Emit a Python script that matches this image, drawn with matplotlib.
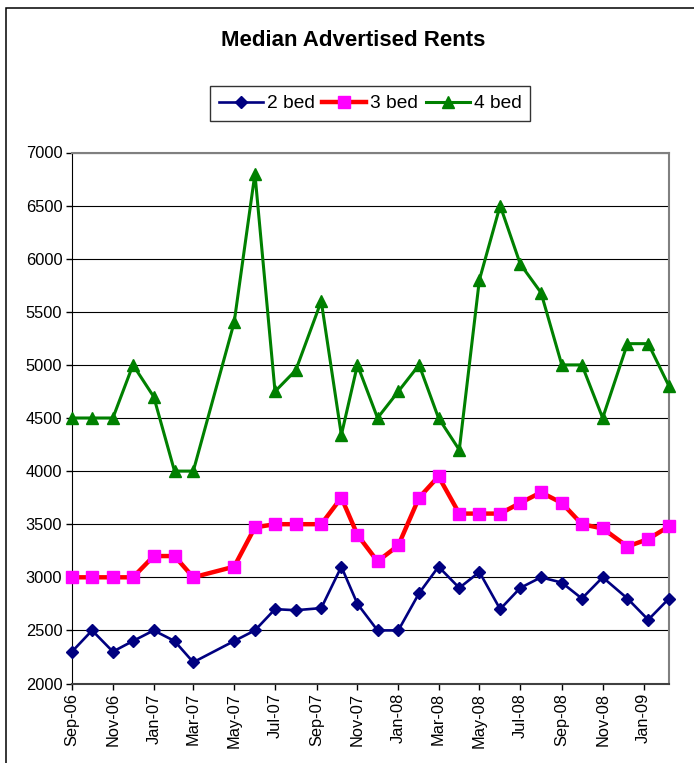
import datetime as dt
import matplotlib
matplotlib.use('Agg')
import matplotlib.pyplot as plt
import matplotlib.dates as mdates
from matplotlib.patches import Rectangle

# survey dates (a few months were sampled a week late, Apr-07 is missing)
dates = ['2006-09-01', '2006-10-01', '2006-11-01', '2006-12-01',
         '2007-01-01', '2007-02-01', '2007-03-01', '2007-05-01',
         '2007-06-01', '2007-07-01', '2007-08-01', '2007-09-08',
         '2007-10-08', '2007-11-01', '2007-12-01', '2008-01-01',
         '2008-02-01', '2008-03-01', '2008-04-01', '2008-05-01',
         '2008-06-01', '2008-07-01', '2008-08-01', '2008-09-01',
         '2008-10-01', '2008-11-01', '2008-12-08', '2009-01-08',
         '2009-02-08']

bed2 = [2300, 2500, 2300, 2400, 2500, 2400, 2200, 2400, 2500, 2700,
        2690, 2710, 3100, 2750, 2500, 2500, 2850, 3100, 2900, 3050,
        2700, 2900, 3000, 2950, 2800, 3000, 2800, 2600, 2800]
bed3 = [3000, 3000, 3000, 3000, 3200, 3200, 3000, 3100, 3470, 3500,
        3500, 3500, 3750, 3400, 3150, 3300, 3750, 3950, 3600, 3600,
        3600, 3700, 3800, 3700, 3500, 3460, 3290, 3360, 3480]
bed4 = [4500, 4500, 4500, 5000, 4700, 4000, 4000, 5400, 6800, 4750,
        4950, 5600, 4340, 5000, 4500, 4750, 5000, 4500, 4200, 5800,
        6500, 5950, 5680, 5000, 5000, 4500, 5200, 5200, 4800]

series_names = ['2 bed', '3 bed', '4 bed']
yticks = list(range(2000, 7001, 500))


def main():
    plt.rcParams['font.family'] = ['Liberation Sans', 'DejaVu Sans']

    x = [dt.datetime.strptime(d, '%Y-%m-%d') for d in dates]

    fig = plt.figure(figsize=(6.94, 7.63), dpi=100)
    ax = fig.add_axes([72/694, 1 - 683.5/763, 597/694, 531/763])

    # outer chart border (cut off at right and bottom)
    fig.patches.append(Rectangle((6/694, -0.1), 1.2, 1.1 - 8.5/763,
                                 transform=fig.transFigure, fill=False,
                                 edgecolor='black', linewidth=1.1))

    ax.plot(x, bed2, color='#000080', lw=1.9, marker='D', ms=6.5,
            mfc='#000080', mec='#000080', label=series_names[0], zorder=3,
            clip_on=False)
    ax.plot(x, bed3, color='#FF0000', lw=3.2, marker='s', ms=8,
            mfc='#FF00FF', mec='#FF00FF', label=series_names[1], zorder=3,
            clip_on=False)
    ax.plot(x, bed4, color='#008000', lw=2.2, marker='^', ms=9,
            mfc='#008000', mec='#008000', label=series_names[2], zorder=3,
            clip_on=False)

    ax.set_xlim(x[0], x[-1])
    ax.set_ylim(2000, 7000)
    ax.set_yticks(yticks)
    ax.yaxis.grid(True, color='black', lw=0.8)
    ax.set_axisbelow(True)

    ax.xaxis.set_major_locator(mdates.MonthLocator(bymonth=[1, 3, 5, 7, 9, 11]))
    ax.xaxis.set_major_formatter(mdates.DateFormatter('%b-%y'))
    ax.tick_params(axis='x', rotation=90, labelsize=11.8, length=4, width=1,
                   pad=3)
    ax.tick_params(axis='y', labelsize=11.8, length=4, width=1, pad=3)

    ax.spines['left'].set_color('black')
    ax.spines['bottom'].set_color('#404040')
    ax.spines['bottom'].set_linewidth(1.5)
    ax.spines['top'].set_color('#808080')
    ax.spines['top'].set_linewidth(1.5)
    ax.spines['right'].set_color('#808080')
    ax.spines['right'].set_linewidth(1.5)

    fig.text(353/694, 1 - 41/763, 'Median Advertised Rents', ha='center',
             va='center', fontsize=16, fontweight='bold')

    leg = fig.legend(loc='center', bbox_to_anchor=(370/694, 1 - 103.7/763),
                     ncol=3, fontsize=13.8, frameon=True, fancybox=False,
                     edgecolor='black', handlelength=2.3, handletextpad=0.2,
                     columnspacing=0.4, borderpad=0.45, borderaxespad=0)
    leg.get_frame().set_linewidth(1)

    fig.savefig('out.png', dpi=100)


if __name__ == "__main__":
    main()
